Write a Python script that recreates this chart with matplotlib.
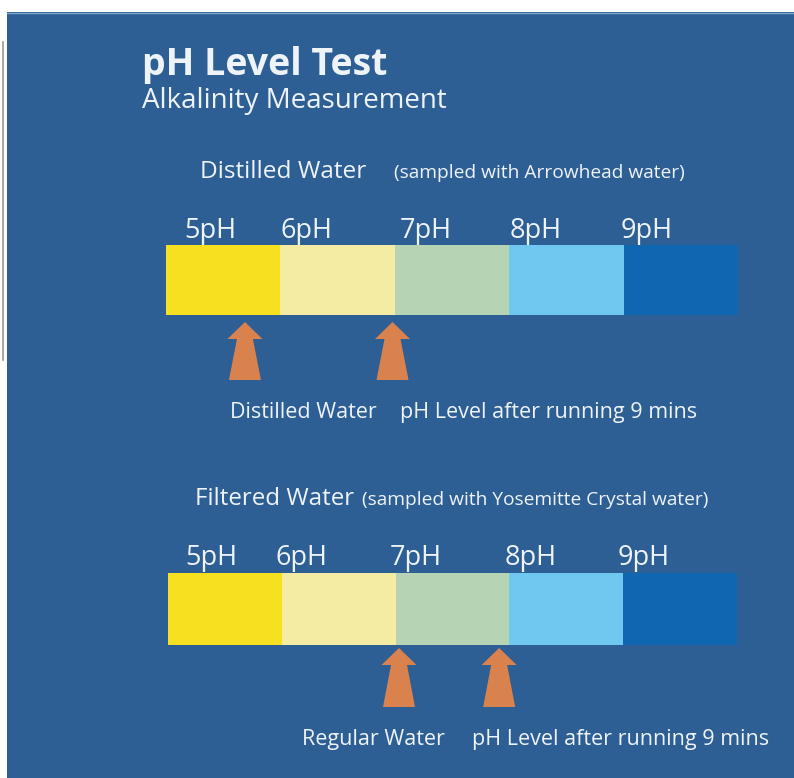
import matplotlib.pyplot as plt
from matplotlib.patches import Rectangle

# chart values
ph_levels = [5, 6, 7, 8, 9]
ph_labels = ['5pH', '6pH', '7pH', '8pH', '9pH']
strip_colors = ['#f7e01f', '#f3eca2', '#b6d4b4', '#70c8f0', '#0f67b1']

distilled_arrows = [5.69, 6.98]
distilled_arrow_labels = ['Distilled Water', 'pH Level after running 9 mins']
filtered_arrows = [7.03, 7.91]
filtered_arrow_labels = ['Regular Water', 'pH Level after running 9 mins']

W, H = 794, 778
BG = '#2d5f94'
TXT = '#eef3f8'
ARROW = '#d9824e'
plt.rcParams['font.family'] = ['Open Sans', 'DejaVu Sans']

fig = plt.figure(figsize=(W / 100, H / 100), dpi=100)
fig.patch.set_facecolor('white')
ax = fig.add_axes([0, 0, 1, 1])
ax.set_xlim(0, W)
ax.set_ylim(H, 0)
ax.axis('off')

ax.add_patch(Rectangle((7, 12), W - 7, H - 12, facecolor=BG, edgecolor='none'))
ax.plot([7, W], [12.5, 12.5], color='#7fa6cc', lw=1)
ax.plot([3, 3], [42, 360], color='#9a9a9a', lw=1.2)

ax.text(142, 75, 'pH Level Test', color=TXT, fontsize=27, fontweight='bold', va='baseline')
ax.text(142, 108, 'Alkalinity Measurement', color=TXT, fontsize=20, va='baseline')


def draw_strip(x0, x1, top, bottom, label_base, label_offsets, arrows, arrow_labels,
               arrow_top, arrow_bottom, note_y, note_x):
    seg = (x1 - x0) / len(ph_levels)
    sax = fig.add_axes([x0 / W, 0, (x1 - x0) / W, 1])
    sax.set_xlim(ph_levels[0], ph_levels[-1] + 1)
    sax.set_ylim(H, 0)
    sax.axis('off')
    sax.patch.set_alpha(0)
    sax.barh((top + bottom) / 2, [1] * len(ph_levels), left=ph_levels,
             height=bottom - top, color=strip_colors, align='center')
    for p, lab, off in zip(ph_levels, ph_labels, label_offsets):
        sax.text(p + off, label_base, lab, color=TXT, fontsize=19.5,
                 ha='center', va='baseline')
    # block arrows (sizes in px converted to pH units)
    hw, hh, nw, bw = 17.5 / seg, 17, 8 / seg, 16 / seg
    for a in arrows:
        xs = [a, a - hw, a - nw, a - bw, a + bw, a + nw, a + hw]
        ys = [arrow_top, arrow_top + hh, arrow_top + hh, arrow_bottom,
              arrow_bottom, arrow_top + hh, arrow_top + hh]
        sax.fill(xs, ys, color=ARROW, lw=0)
    for nx, lab in zip(note_x, arrow_labels):
        ax.text(nx, note_y, lab, color=TXT, fontsize=15.5, va='baseline')


ax.text(200, 178, 'Distilled Water', color=TXT, fontsize=17.6, va='baseline')
ax.text(394, 178, '(sampled with Arrowhead water)', color=TXT, fontsize=13.8, va='baseline')
draw_strip(166, 738, 245, 315, 238, [0.39, 0.23, 0.27, 0.23, 0.2],
           distilled_arrows, distilled_arrow_labels, 322, 380, 418, [230, 400])

ax.text(195, 505, 'Filtered Water', color=TXT, fontsize=17.4, va='baseline')
ax.text(362, 505, '(sampled with Yosemitte Crystal water)', color=TXT, fontsize=13.8, va='baseline')
draw_strip(168, 737, 573, 645, 565, [0.38, 0.17, 0.18, 0.19, 0.18],
           filtered_arrows, filtered_arrow_labels, 648, 707, 745, [302, 472])

fig.savefig('out.png', dpi=100, facecolor='white')
